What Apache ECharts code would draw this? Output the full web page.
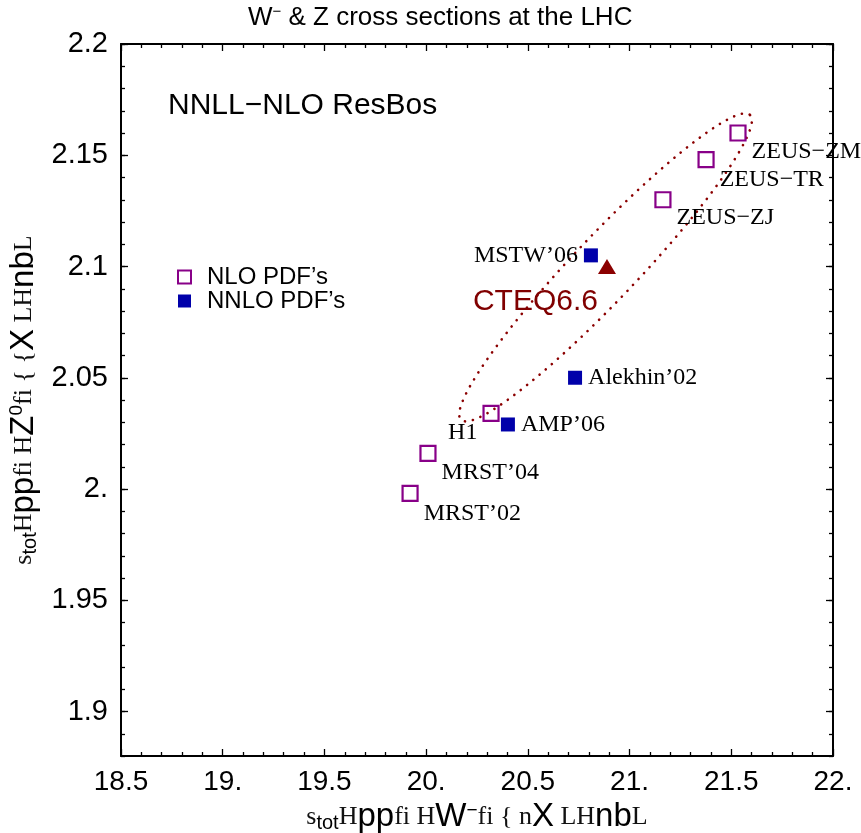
<!DOCTYPE html>
<html>
<head>
<meta charset="utf-8">
<script src="https://cdn.jsdelivr.net/npm/echarts@6/dist/echarts.min.js"></script>
<style>
  html, body { margin: 0; padding: 0; background: #fff; }
  #chart { width: 861px; height: 833px; }
</style>
</head>
<body>
<div id="chart"></div>
<script>
// NLO PDF sets: W- and Z cross sections (nb)
const nloNames = ['ZEUS\u2212ZM', 'ZEUS\u2212TR', 'ZEUS\u2212ZJ', 'H1', 'MRST\u201904', 'MRST\u201902'];
const nloW = [21.533, 21.376, 21.164, 20.319, 20.009, 19.921];
const nloZ = [2.160, 2.148, 2.130, 2.034, 2.016, 1.998];

// NNLO PDF sets
const nnloNames = ['MSTW\u201906', 'Alekhin\u201902', 'AMP\u201906'];
const nnloW = [20.810, 20.732, 20.402];
const nnloZ = [2.105, 2.050, 2.029];

// CTEQ6.6 central value
const cteqName = ['CTEQ6.6'];
const cteqW = [20.889];
const cteqZ = [2.100];

// CTEQ6.6 uncertainty ellipse: centre and semi-axis vectors (nb)
const ellipseCenter = [20.882, 2.0996];
const ellipseMajor = [0.7103, 0.0685];
const ellipseMinor = [0.1142, -0.00989];

// axis tick values
const xMin = 18.5, xMax = 22, xStep = 0.5;
const yMin = 1.88, yMax = 2.2, yMinorStep = 0.01;
const yMajorTicks = [1.9, 1.95, 2.0, 2.05, 2.1, 2.15, 2.2];

// label placement for each point (side, vertical shift in px)
const nloLabelPlace = [['right', 19], ['right', 20], ['right', 18], ['left', 19], ['right', 19], ['right', 20]];
const nnloLabelPlace = [['left', 0], ['right', 0], ['right', 0]];

const PURPLE = '#880088', BLUE = '#0000aa', DARKRED = '#8b0000';
const SERIF = '"Liberation Serif", "Times New Roman", serif';
const SANS = '"Liberation Sans", Arial, sans-serif';

function fmtNum(v) {
  const r = Math.round(v * 100) / 100;
  if (Math.abs(r - Math.round(r)) < 1e-9) return Math.round(r) + '.';
  return String(r);
}

function pointData(names, xs, ys, places, dist) {
  return names.map((n, i) => ({
    name: n,
    value: [xs[i], ys[i]],
    label: {
      show: true,
      formatter: n,
      position: places[i][0],
      distance: dist,
      offset: [0, places[i][1]],
      fontFamily: SERIF,
      fontSize: 24,
      color: '#000'
    }
  }));
}

const chart = echarts.init(document.getElementById('chart'), null, { renderer: 'canvas' });

const frameLine = { show: true, lineStyle: { color: '#000', width: 2 } };

const xAxisBase = {
  type: 'value', min: xMin, max: xMax, interval: xStep,
  splitLine: { show: false },
  axisLine: frameLine,
  axisTick: { show: true, inside: true, length: 7, lineStyle: { color: '#000', width: 1.3 } },
  minorTick: { show: true, splitNumber: 5, length: 4, lineStyle: { color: '#000', width: 1.3 } }
};

const axisNameRich = {
  s: { fontFamily: SERIF, fontSize: 26, color: '#111' },
  b: { fontFamily: SANS, fontSize: 33, color: '#000' },
  sub: { fontFamily: SANS, fontSize: 20, color: '#000', padding: [12, 0, 0, 0] },
  sup: { fontFamily: SANS, fontSize: 19, color: '#000', padding: [0, 0, 14, 0] }
};

chart.setOption({
  animation: false,
  backgroundColor: '#fff',
  title: {
    text: '{a|W}{m|\u2212}{a| & Z cross sections at the LHC}',
    left: 243, top: -1,
    textStyle: {
      fontWeight: 'normal',
      rich: {
        a: { fontFamily: SANS, fontSize: 26, fontWeight: 'normal', color: '#000' },
        m: { fontFamily: SANS, fontSize: 15, fontWeight: 'normal', color: '#000', padding: [0, 0, 12, 0] }
      }
    }
  },
  legend: {
    orient: 'vertical', left: 172, top: 260,
    itemWidth: 13, itemHeight: 13, itemGap: 0,
    selectedMode: false,
    textStyle: { fontFamily: SANS, fontSize: 24, color: '#000', padding: [0, 0, 0, 11] },
    data: [
      { name: 'NLO PDF\u2019s', icon: 'rect', itemStyle: { color: '#fff', borderColor: PURPLE, borderWidth: 2, opacity: 1 } },
      { name: 'NNLO PDF\u2019s', icon: 'rect', itemStyle: { color: BLUE, borderWidth: 0, opacity: 1 } }
    ]
  },
  graphic: [{
    type: 'text', left: 168, top: 91,
    style: { text: 'NNLL\u2212NLO ResBos', font: '30px ' + SANS, fill: '#000' }
  }],
  grid: { left: 121, top: 44, width: 712, height: 712, containLabel: false, outerBoundsMode: 'none' },
  xAxis: [
    Object.assign({}, xAxisBase, {
      position: 'bottom',
      axisLabel: { show: true, margin: 12, fontFamily: SANS, fontSize: 28, color: '#000', formatter: fmtNum },
      name: '{s|s}{sub|tot}{s|H}{b|pp}{s|fi H}{b|W}{sup|\u2212}{s|fi { }{s|n}{b|X}{s| LH}{b|nb}{s|L}',
      nameLocation: 'middle', nameGap: 40,
      nameTextStyle: { rich: axisNameRich }
    }),
    Object.assign({}, xAxisBase, { position: 'top', axisLabel: { show: false } })
  ],
  yAxis: [
    {
      type: 'value', min: yMin, max: yMax, position: 'left',
      splitLine: { show: false },
      axisLine: frameLine,
      axisTick: { show: true, inside: true, length: 7, customValues: yMajorTicks, lineStyle: { color: '#000', width: 1.3 } },
      axisLabel: { show: true, margin: 13, fontFamily: SANS, fontSize: 29, color: '#000', customValues: yMajorTicks, formatter: fmtNum },
      name: '{s|s}{sub|tot}{s|H}{b|pp}{s|fi H}{b|Z}{sup|0}{s|fi { {}{b|X}{s| LH}{b|nb}{s|L}',
      nameLocation: 'middle', nameRotate: 90, nameGap: 76,
      nameTextStyle: { rich: axisNameRich }
    },
    {
      type: 'value', min: yMin, max: yMax, interval: yMinorStep, position: 'left',
      splitLine: { show: false }, axisLine: { show: false }, axisLabel: { show: false },
      axisTick: { show: true, inside: true, length: 4, lineStyle: { color: '#000', width: 1.3 } }
    },
    {
      type: 'value', min: yMin, max: yMax, position: 'right',
      splitLine: { show: false }, axisLine: frameLine, axisLabel: { show: false },
      axisTick: { show: true, inside: true, length: 7, customValues: yMajorTicks, lineStyle: { color: '#000', width: 1.3 } }
    },
    {
      type: 'value', min: yMin, max: yMax, interval: yMinorStep, position: 'right',
      splitLine: { show: false }, axisLine: { show: false }, axisLabel: { show: false },
      axisTick: { show: true, inside: true, length: 4, lineStyle: { color: '#000', width: 1.3 } }
    }
  ],
  series: [
    {
      name: 'CTEQ6.6 ellipse',
      type: 'custom',
      silent: true,
      xAxisIndex: 0, yAxisIndex: 0,
      data: [ellipseCenter],
      renderItem: function (params, api) {
        const cx = api.value(0), cy = api.value(1);
        const pts = [];
        const n = 240;
        for (let k = 0; k <= n; k++) {
          const t = 2 * Math.PI * k / n;
          const c = Math.cos(t), s = Math.sin(t);
          pts.push(api.coord([
            cx + c * ellipseMajor[0] + s * ellipseMinor[0],
            cy + c * ellipseMajor[1] + s * ellipseMinor[1]
          ]));
        }
        return {
          type: 'polyline',
          shape: { points: pts },
          style: { fill: 'none', stroke: DARKRED, lineWidth: 2.6, lineDash: [0.1, 8], lineCap: 'round' }
        };
      }
    },
    {
      name: 'NLO PDF\u2019s',
      type: 'scatter',
      xAxisIndex: 0, yAxisIndex: 0,
      symbol: 'rect', symbolSize: 15,
      itemStyle: { color: 'rgba(255,255,255,0)', borderColor: PURPLE, borderWidth: 2.2, opacity: 1 },
      emphasis: { disabled: true },
      data: pointData(nloNames, nloW, nloZ, nloLabelPlace, 5)
    },
    {
      name: 'NNLO PDF\u2019s',
      type: 'scatter',
      xAxisIndex: 0, yAxisIndex: 0,
      symbol: 'rect', symbolSize: 14,
      itemStyle: { color: BLUE, opacity: 1 },
      emphasis: { disabled: true },
      data: pointData(nnloNames, nnloW, nnloZ, nnloLabelPlace, 6)
    },
    {
      name: 'CTEQ6.6',
      type: 'scatter',
      xAxisIndex: 0, yAxisIndex: 0,
      symbol: 'triangle', symbolSize: [18, 15],
      itemStyle: { color: DARKRED, opacity: 1 },
      emphasis: { disabled: true },
      data: cteqName.map((n, i) => ({
        name: n,
        value: [cteqW[i], cteqZ[i]],
        label: {
          show: true, formatter: n, position: 'left', distance: 0, offset: [0, 35],
          fontFamily: SANS, fontSize: 30, color: '#800000'
        }
      }))
    }
  ]
});
</script>
</body>
</html>
